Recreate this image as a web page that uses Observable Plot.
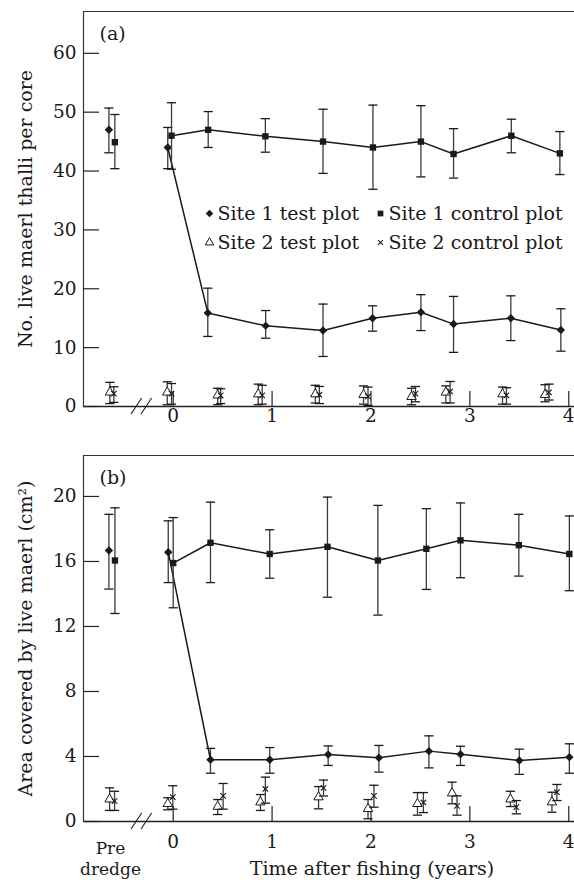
<!DOCTYPE html>
<html><head><meta charset="utf-8">
<script src="https://cdn.jsdelivr.net/npm/d3@7"></script>
<script src="https://cdn.jsdelivr.net/npm/@observablehq/plot@0.6"></script>
<style>
body{margin:0;background:#fff;}
#chart{width:574px;height:880px;position:relative;overflow:hidden;}
#chart svg{display:block;}
</style></head><body><div id="chart"></div>
<script>
// ---------- Panel (a): No. live maerl thalli per core ----------
// index 0 = pre-dredge sample, others = years after fishing
const a_s1test_t  = [-0.65, -0.055, 0.35, 0.935, 1.515, 2.016, 2.505, 2.835, 3.414, 3.92];
const a_s1test_y  = [47.0, 44.0, 15.9, 13.7, 12.9, 15.0, 16.0, 14.0, 15.0, 13.0];
const a_s1test_lo = [43.1, 40.4, 11.9, 11.6, 8.5, 12.8, 12.9, 9.2, 11.2, 9.4];
const a_s1test_hi = [50.7, 47.4, 20.1, 16.3, 17.4, 17.1, 19.0, 18.7, 18.8, 16.6];

const a_s1ctrl_t  = [-0.59, -0.017, 0.354, 0.932, 1.515, 2.02, 2.505, 2.835, 3.419, 3.91];
const a_s1ctrl_y  = [44.9, 46.0, 47.0, 45.9, 45.0, 44.0, 45.0, 42.9, 46.0, 43.0];
const a_s1ctrl_lo = [40.4, 40.3, 44.0, 43.2, 39.6, 36.9, 39.0, 38.8, 43.1, 39.4];
const a_s1ctrl_hi = [49.6, 51.6, 50.1, 48.9, 50.5, 51.2, 51.1, 47.2, 48.8, 46.7];

const a_s2test_t  = [-0.64, -0.06, 0.45, 0.86, 1.437, 1.925, 2.41, 2.757, 3.33, 3.76];
const a_s2test_y  = [2.4, 2.4, 1.9, 2.1, 2.1, 2.0, 1.65, 2.4, 2.1, 2.0];
const a_s2test_lo = [0.5, 0.3, 0.3, 0.3, 0.6, 0.4, 0.3, 0.6, 0.4, 0.8];
const a_s2test_hi = [4.1, 4.2, 3.1, 3.8, 3.6, 3.5, 3.1, 3.5, 3.3, 3.7];

const a_s2ctrl_t  = [-0.6, -0.017, 0.48, 0.9, 1.478, 1.97, 2.45, 2.8, 3.37, 3.8];
const a_s2ctrl_y  = [2.2, 2.2, 1.9, 1.9, 2.0, 1.7, 2.2, 2.55, 1.9, 2.4];
const a_s2ctrl_lo = [0.7, 0.4, 0.5, 0.4, 0.5, 0.2, 0.8, 0.6, 0.4, 1.1];
const a_s2ctrl_hi = [3.35, 3.9, 3.0, 3.6, 3.4, 3.3, 3.4, 4.25, 3.2, 3.8];

// ---------- Panel (b): Area covered by live maerl (cm2) ----------
const b_s1test_t  = [-0.65, -0.05, 0.377, 0.977, 1.567, 2.08, 2.586, 2.905, 3.5, 4.006];
const b_s1test_y  = [16.68, 16.57, 3.8, 3.8, 4.12, 3.92, 4.33, 4.14, 3.75, 3.96];
const b_s1test_lo = [14.3, 14.7, 2.97, 2.97, 3.45, 3.04, 3.3, 3.45, 2.9, 2.97];
const b_s1test_hi = [18.9, 18.5, 4.5, 4.55, 4.65, 4.68, 5.27, 4.63, 4.45, 4.78];

const b_s1ctrl_t  = [-0.589, 0.0, 0.377, 0.976, 1.56, 2.07, 2.56, 2.905, 3.495, 4.006];
const b_s1ctrl_y  = [16.06, 15.9, 17.15, 16.46, 16.9, 16.06, 16.78, 17.3, 17.0, 16.46];
const b_s1ctrl_lo = [12.8, 13.15, 14.7, 14.97, 13.8, 12.7, 14.28, 15.0, 15.1, 14.2];
const b_s1ctrl_hi = [19.3, 18.7, 19.65, 17.95, 19.96, 19.45, 19.25, 19.6, 18.9, 18.8];

const b_s2test_t  = [-0.643, -0.055, 0.45, 0.882, 1.47, 1.97, 2.47, 2.82, 3.41, 3.83];
const b_s2test_y  = [1.37, 1.09, 0.92, 1.19, 1.5, 0.78, 1.09, 1.74, 1.37, 1.19];
const b_s2test_lo = [0.68, 0.72, 0.43, 0.68, 0.78, 0.17, 0.39, 1.09, 0.92, 0.57];
const b_s2test_hi = [2.07, 1.46, 1.35, 1.66, 2.15, 1.35, 1.78, 2.42, 1.86, 1.8];

const b_s2ctrl_t  = [-0.593, -0.004, 0.505, 0.932, 1.52, 2.03, 2.53, 2.87, 3.47, 3.88];
const b_s2ctrl_y  = [1.25, 1.5, 1.58, 2.0, 2.07, 1.58, 1.17, 0.96, 0.88, 1.8];
const b_s2ctrl_lo = [0.68, 0.76, 0.76, 1.13, 1.57, 0.88, 0.55, 0.39, 0.47, 1.29];
const b_s2ctrl_hi = [1.86, 2.2, 2.34, 2.73, 2.55, 2.23, 1.78, 1.58, 1.29, 2.28];

// ---------- tick labels / text ----------
const xTicks = [0, 1, 2, 3, 4];
const a_yTicks = [0, 10, 20, 30, 40, 50, 60];
const b_yTicks = [0, 4, 8, 12, 16, 20];
const preX = -0.634;          // position of the pre-dredge category
const breakAt = -0.317;       // axis break
const xDomain = [-0.907, 4.058];
const a_yMax = 67.1;
const b_yMax = 22.52;
const legendNames = ["Site 1 test plot", "Site 1 control plot", "Site 2 test plot", "Site 2 control plot"];
const a_yLabel = "No. live maerl thalli per core";
const b_yLabel = "Area covered by live maerl (cm²)";
const xLabel = "Time after fishing (years)";
const preLabel = ["Pre", "dredge"];

// ---------- helpers ----------
const rows = (t, y, lo, hi) => t.map((d, i) => ({t: d, y: y[i], lo: lo[i], hi: hi[i], pre: i === 0}));
const ink = "#1a1a1a";
const FS = 19, TFS = 18.5;
const capSymbol = {draw(ctx, size) { const r = Math.sqrt(size / Math.PI); ctx.moveTo(-r, 0); ctx.lineTo(r, 0); }};
const styles = {
  s1test: {symbol: "diamond2", fill: ink, r: 3.8},
  s1ctrl: {symbol: "square", fill: ink, r: 3.6},
  s2test: {symbol: "triangle", fill: "white", stroke: ink, strokeWidth: 1, r: 3.5},
  s2ctrl: {symbol: "times", fill: "none", stroke: ink, strokeWidth: 1.1, r: 2.6}
};
const order = ["s1test", "s1ctrl", "s2test", "s2ctrl"];

function seriesMarks(data, key, withLine) {
  const m = [
    Plot.ruleX(data, {x: "t", y1: "lo", y2: "hi", stroke: "#3a3a3a", strokeWidth: 1.3}),
    Plot.dot(data, {x: "t", y: "lo", symbol: capSymbol, r: 4.6, stroke: ink, strokeWidth: 1.3, fill: "none"}),
    Plot.dot(data, {x: "t", y: "hi", symbol: capSymbol, r: 4.6, stroke: ink, strokeWidth: 1.3, fill: "none"})
  ];
  if (withLine) m.push(Plot.line(data.filter(d => !d.pre), {x: "t", y: "y", stroke: ink, strokeWidth: 1.5}));
  m.push(Plot.dot(data, {x: "t", y: "y", ...styles[key]}));
  return m;
}

function breakMark(at) {
  return (index, {x, y}) => {
    const g = d3.create("svg:g").attr("stroke", ink).attr("stroke-width", 1.1);
    const px = x(at), py = y(0);
    for (const off of [-5, 5]) {
      g.append("line").attr("x1", px + off - 5.3).attr("y1", py + 8).attr("x2", px + off + 5.3).attr("y2", py - 8);
    }
    return g.node();
  };
}

const W = 574, ML = 83, MR = 0;
const font = {fontFamily: "'DejaVu Serif', serif", fontSize: FS + "px", background: "white", color: ink, overflow: "visible"};

function panel(cfg) {
  const frameW = W - ML - MR;
  const frameH = cfg.height - cfg.marginTop - cfg.marginBottom;
  const marks = [
    Plot.ruleY([cfg.yMax], {stroke: "#333", strokeWidth: 1.2}),
    Plot.ruleX([xDomain[0]], {stroke: "#333", strokeWidth: 1.2}),
    Plot.ruleY([0], {stroke: "#222", strokeWidth: 1.3}),
    Plot.tickY(cfg.yTicks, {y: d => d, insetRight: frameW - 16, stroke: "#222", strokeWidth: 1.2}),
    Plot.tickX(xTicks, {x: d => d, insetTop: frameH - 15, stroke: "#222", strokeWidth: 1.2}),
    Plot.axisY({ticks: cfg.yTicks, tickFormat: "d", tickSize: 0, tickPadding: 7, label: null, fontSize: TFS}),
    Plot.axisX({ticks: xTicks, tickFormat: "d", tickSize: 0, tickPadding: cfg.xPad, label: null, fontSize: TFS}),
    breakMark(breakAt),
    Plot.text([cfg.yLabel], {frameAnchor: "left", rotate: -90, dx: -58, textAnchor: "middle", lineAnchor: "middle", fontSize: FS}),
    Plot.text([cfg.tag], {frameAnchor: "top-left", dx: 16, dy: 22, textAnchor: "start", lineAnchor: "middle", fontSize: FS})
  ];
  order.forEach(k => marks.push(...seriesMarks(cfg.data[k], k, k === "s1test" || k === "s1ctrl")));
  if (cfg.legend) {
    legendNames.forEach((name, i) => {
      const col = i % 2, row = Math.floor(i / 2);
      const dx = 126 + col * 171, dy = 202 + row * 29;
      const st = {...styles[order[i]]};
      st.r = st.r * 0.9;
      marks.push(Plot.dot([name], {frameAnchor: "top-left", dx, dy, ...st}));
      marks.push(Plot.text([name], {frameAnchor: "top-left", dx: dx + 8, dy, textAnchor: "start", lineAnchor: "middle", fontSize: FS}));
    });
  }
  if (cfg.bottomText) {
    marks.push(Plot.text([preLabel[0]], {x: () => preX, frameAnchor: "bottom", dy: 27.3, lineAnchor: "middle", fontSize: 17}));
    marks.push(Plot.text([preLabel[1]], {x: () => preX, frameAnchor: "bottom", dy: 48, lineAnchor: "middle", fontSize: 17}));
    marks.push(Plot.text([xLabel], {frameAnchor: "bottom", dx: 43, dy: 47.3, lineAnchor: "middle", fontSize: FS}));
  }
  return Plot.plot({
    width: W, height: cfg.height,
    marginLeft: ML, marginRight: MR, marginTop: cfg.marginTop, marginBottom: cfg.marginBottom,
    style: font,
    x: {domain: xDomain},
    y: {domain: [0, cfg.yMax]},
    marks
  });
}

const chart = document.getElementById("chart");
chart.append(panel({
  height: 430, marginTop: 11, marginBottom: 24, yMax: a_yMax, yTicks: a_yTicks, xPad: 2.8,
  yLabel: a_yLabel, tag: "(a)", legend: true, bottomText: false,
  data: {
    s1test: rows(a_s1test_t, a_s1test_y, a_s1test_lo, a_s1test_hi),
    s1ctrl: rows(a_s1ctrl_t, a_s1ctrl_y, a_s1ctrl_lo, a_s1ctrl_hi),
    s2test: rows(a_s2test_t, a_s2test_y, a_s2test_lo, a_s2test_hi),
    s2ctrl: rows(a_s2ctrl_t, a_s2ctrl_y, a_s2ctrl_lo, a_s2ctrl_hi)
  }
}));
chart.append(panel({
  height: 450, marginTop: 25, marginBottom: 59, yMax: b_yMax, yTicks: b_yTicks, xPad: 13.2,
  yLabel: b_yLabel, tag: "(b)", legend: false, bottomText: true,
  data: {
    s1test: rows(b_s1test_t, b_s1test_y, b_s1test_lo, b_s1test_hi),
    s1ctrl: rows(b_s1ctrl_t, b_s1ctrl_y, b_s1ctrl_lo, b_s1ctrl_hi),
    s2test: rows(b_s2test_t, b_s2test_y, b_s2test_lo, b_s2test_hi),
    s2ctrl: rows(b_s2ctrl_t, b_s2ctrl_y, b_s2ctrl_lo, b_s2ctrl_hi)
  }
}));
</script></body></html>
